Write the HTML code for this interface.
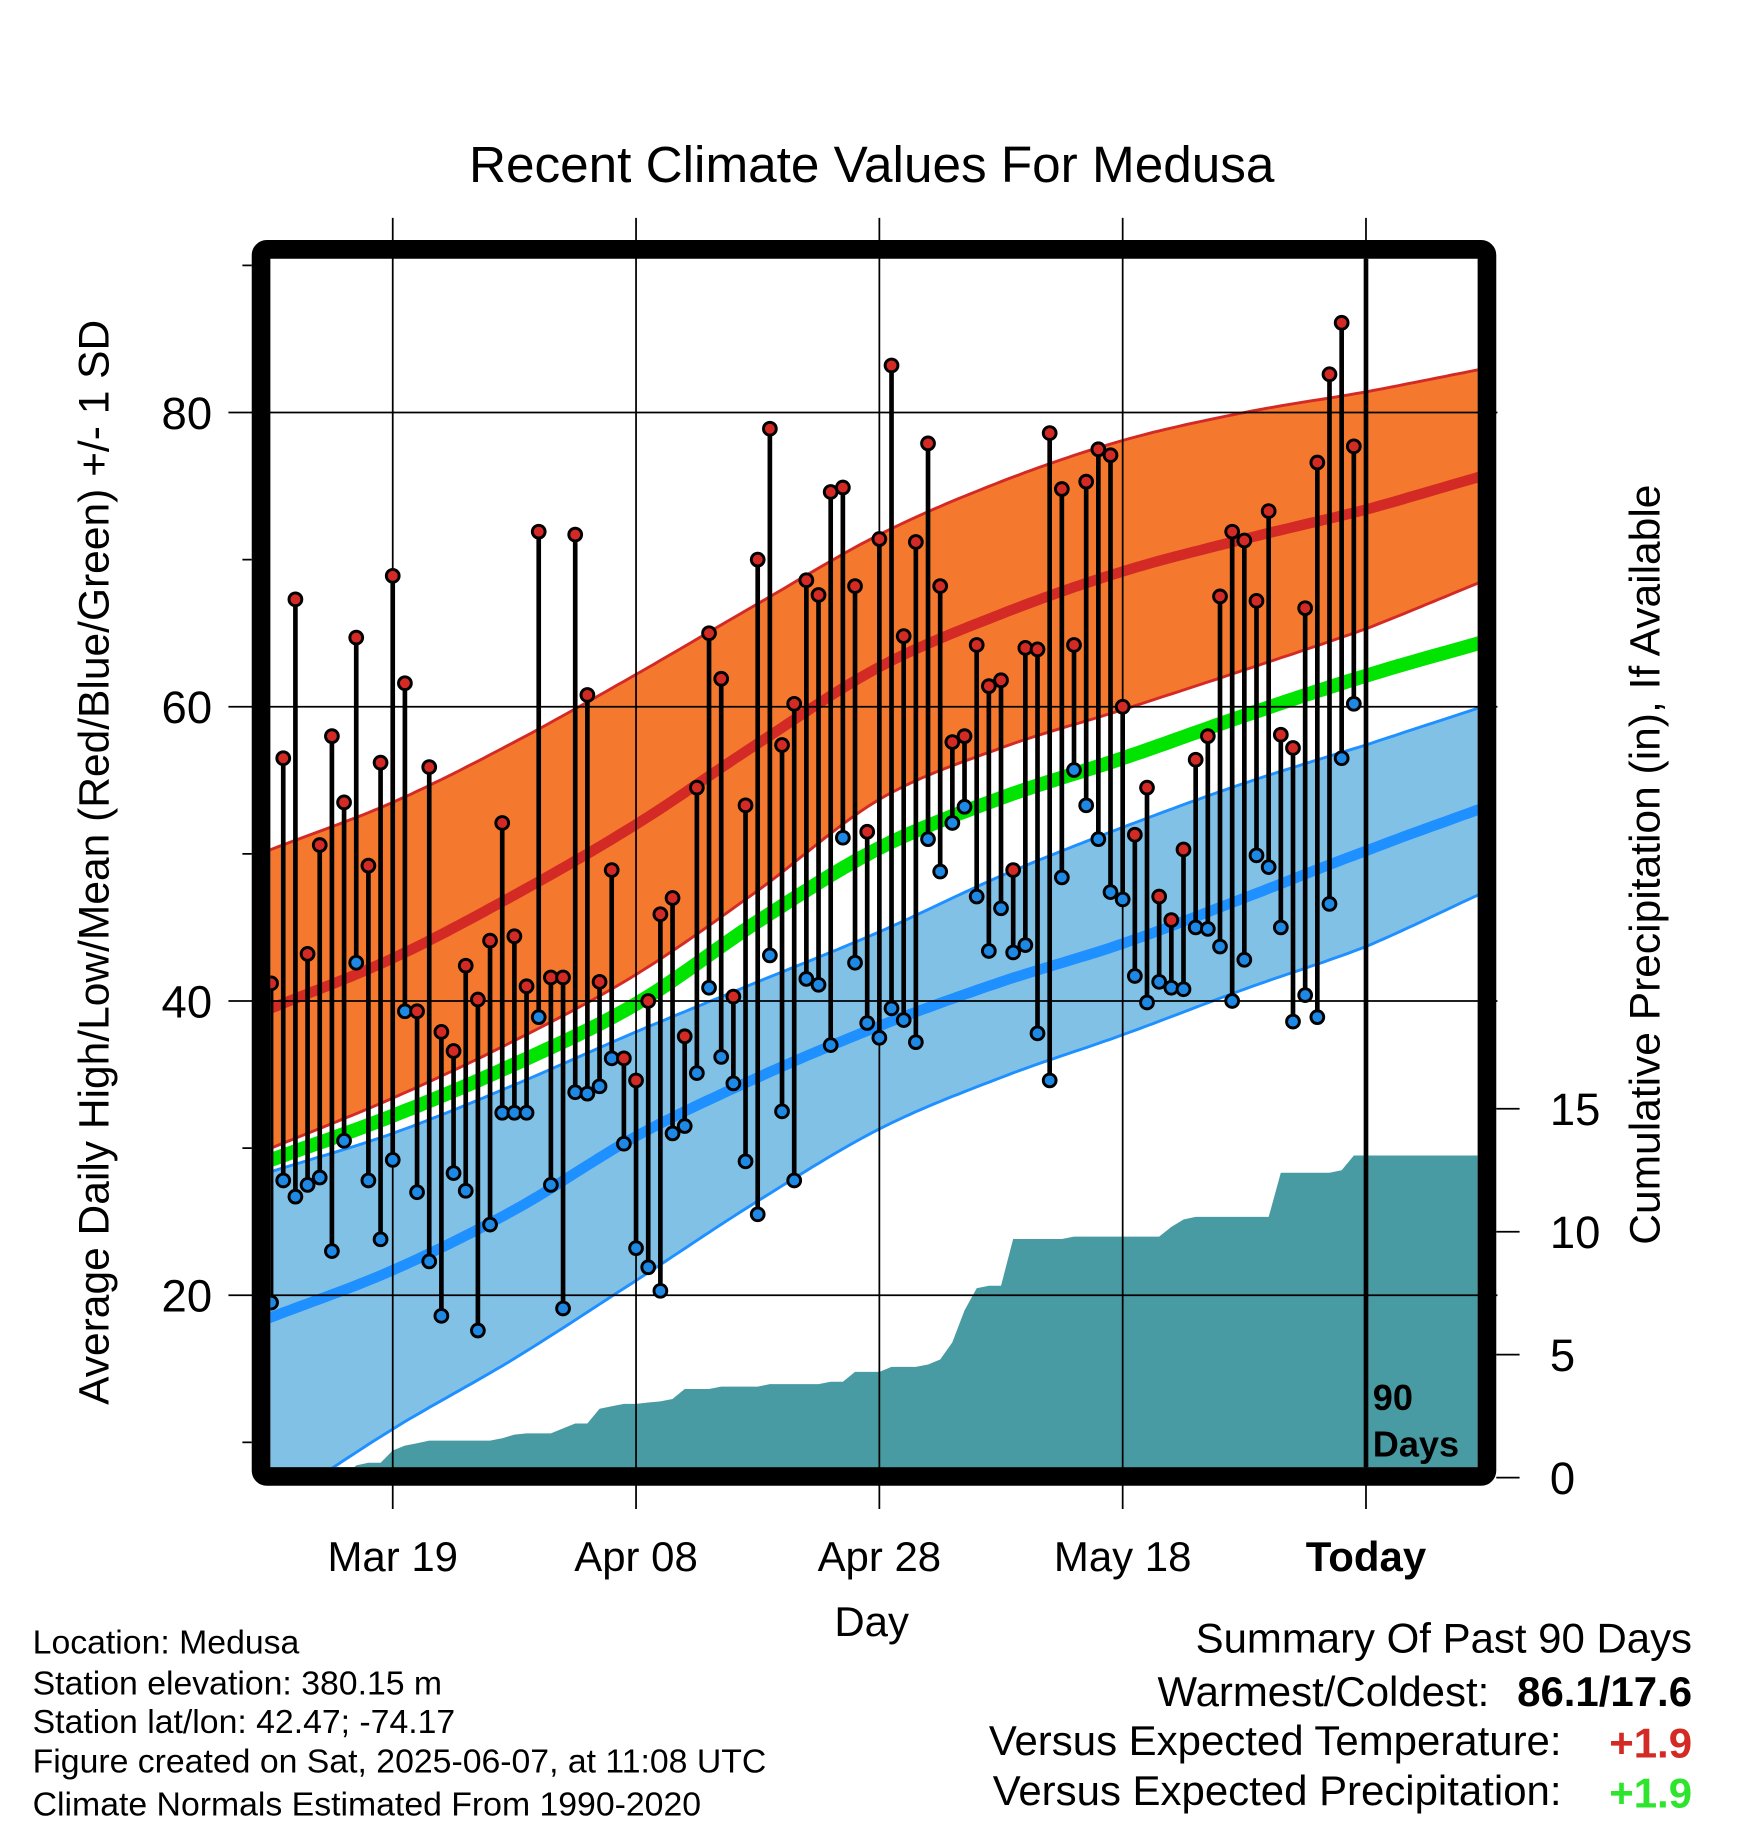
<!DOCTYPE html>
<html><head><meta charset="utf-8"><style>
html,body{margin:0;padding:0;background:#fff}
svg{display:block}
text{font-family:"Liberation Sans",sans-serif}
</style></head><body>
<svg id="chart" width="1748" height="1828" viewBox="0 0 1500 1568.7" xmlns="http://www.w3.org/2000/svg">
<defs><clipPath id="plotclip"><rect x="232" y="222" width="1036" height="1037"/></clipPath></defs>
<text x="748" y="156" font-size="44" text-anchor="middle">Recent Climate Values For Medusa</text>
<g id="bands" clip-path="url(#plotclip)"></g>
<g id="grid"></g>
<g id="marks" clip-path="url(#plotclip)"></g>
<g id="axes"></g>
<rect x="224" y="214" width="1052" height="1053" rx="5" fill="none" stroke="#000" stroke-width="16"/>
<text transform="translate(93,740) rotate(-90)" font-size="36.5" text-anchor="middle">Average Daily High/Low/Mean (Red/Blue/Green) +/- 1 SD</text>
<text transform="translate(1424,742) rotate(-90)" font-size="36.5" text-anchor="middle">Cumulative Precipitation (in), If Available</text>
<text x="748" y="1404" font-size="36" text-anchor="middle">Day</text>
<text x="1178" y="1210" font-size="31" font-weight="bold">90</text>
<text x="1178" y="1250" font-size="31" font-weight="bold">Days</text>
<g font-size="29">
<text x="28" y="1419">Location: Medusa</text>
<text x="28" y="1454">Station elevation: 380.15 m</text>
<text x="28" y="1487">Station lat/lon: 42.47; -74.17</text>
<text x="28" y="1521">Figure created on Sat, 2025-06-07, at 11:08 UTC</text>
<text x="28" y="1558">Climate Normals Estimated From 1990-2020</text>
</g>
<g font-size="36">
<text x="1452" y="1418" text-anchor="end">Summary Of Past 90 Days</text>
<text x="1278" y="1464" text-anchor="end">Warmest/Coldest:</text>
<text x="1452" y="1464" text-anchor="end" font-weight="bold">86.1/17.6</text>
<text x="1340" y="1506" text-anchor="end">Versus Expected Temperature:</text>
<text x="1452" y="1508" text-anchor="end" font-weight="bold" fill="#d42a25">+1.9</text>
<text x="1340" y="1549" text-anchor="end">Versus Expected Precipitation:</text>
<text x="1452" y="1551" text-anchor="end" font-weight="bold" fill="#2ee52e">+1.9</text>
</g>
</svg>
<script>
const highs=[41.2,56.5,67.3,43.2,50.6,58,53.5,64.7,49.2,56.2,68.9,61.6,39.3,55.9,37.9,36.6,42.4,40.1,44.1,52.1,44.4,41,71.9,41.6,41.6,71.7,60.8,41.3,48.9,36.1,34.6,40,45.9,47,37.6,54.5,65,61.9,40.3,53.3,70,78.9,57.4,60.2,68.6,67.6,74.6,74.9,68.2,51.5,71.4,83.2,64.8,71.2,77.9,68.2,57.6,58,64.2,61.4,61.8,48.9,64,63.9,78.6,74.8,64.2,75.3,77.5,77.1,60,51.3,54.5,47.1,45.5,50.3,56.4,58,67.5,71.9,71.3,67.2,73.3,58.1,57.2,66.7,76.6,82.6,86.1,77.7];
const lows=[19.5,27.8,26.7,27.5,28,23,30.5,42.6,27.8,23.8,29.2,39.3,27,22.3,18.6,28.3,27.1,17.6,24.8,32.4,32.4,32.4,38.9,27.5,19.1,33.8,33.7,34.2,36.1,30.3,23.2,21.9,20.3,31,31.5,35.1,40.9,36.2,34.4,29.1,25.5,43.1,32.5,27.8,41.5,41.1,37,51.1,42.6,38.5,37.5,39.5,38.7,37.2,51,48.8,52.1,53.2,47.1,43.4,46.3,43.3,43.8,37.8,34.6,48.4,55.7,53.3,51,47.4,46.9,41.7,39.9,41.3,40.9,40.8,45,44.9,43.7,40,42.8,49.9,49.1,45,38.6,40.4,38.9,46.6,56.5,60.2];
const precip=[0,0,0,0,0,0,0,0.5,0.6,0.6,1.1,1.3,1.4,1.5,1.5,1.5,1.5,1.5,1.5,1.6,1.75,1.8,1.8,1.8,2.0,2.2,2.2,2.8,2.9,3.0,3.0,3.05,3.1,3.2,3.6,3.6,3.6,3.7,3.7,3.7,3.7,3.8,3.8,3.8,3.8,3.8,3.9,3.9,4.3,4.3,4.3,4.5,4.5,4.5,4.6,4.8,5.5,6.8,7.7,7.8,7.8,9.7,9.7,9.7,9.7,9.7,9.8,9.8,9.8,9.8,9.8,9.8,9.8,9.8,10.2,10.5,10.6,10.6,10.6,10.6,10.6,10.6,10.6,12.4,12.4,12.4,12.4,12.4,12.5,13.1];
const normDays=[0,10,20,30,40,50,60,70,80,90,99.2];
const highUpper=[50.3,53.5,57.6,62.2,67,71.7,75.3,78.1,80,81.4,82.9];
const highMean=[39.5,42.9,47.2,52,57.5,62.7,66.3,69.2,71.4,73.4,75.6];
const highLower=[30,33.4,37.3,41.8,47.5,53.7,57.2,59.8,62.5,65.3,68.4];
const meanTemp=[29.2,32.2,35.7,39.8,45.4,50.4,53.8,56.5,59.4,62.1,64.3];
const lowUpper=[28.4,31,34.3,37.9,41.3,44.7,48.5,51.8,54.8,57.4,59.9];
const lowMean=[18.5,21.7,25.8,30.8,34.8,38.3,41.3,43.9,47,50.2,53];
const lowLower=[5.5,10.9,15.7,21,26.4,31.3,34.8,37.7,40.8,43.7,47.2];
const yTicks=[20,40,60,80];
const yMinor=[10,30,50,70,90];
const pTicks=[0,5,10,15];
const xTickDays=[10,30,50,70,90];
const xTickLabels=["Mar 19","Apr 08","Apr 28","May 18","Today"];

const NS="http://www.w3.org/2000/svg";
const xS=d=>337+(d-10)*10.44;
const yS=t=>354+(80-t)*12.625;
const pS=p=>1268-p*21.1;
function mk(tag,attrs,parent){const e=document.createElementNS(NS,tag);for(const k in attrs)e.setAttribute(k,attrs[k]);parent.appendChild(e);return e;}
function interp(arr,d){const n=normDays.length;
 if(d<=normDays[0]){return arr[0]+(arr[1]-arr[0])*(d-normDays[0])/(normDays[1]-normDays[0]);}
 if(d>=normDays[n-1]){return arr[n-1]+(arr[n-1]-arr[n-2])*(d-normDays[n-1])/(normDays[n-1]-normDays[n-2]);}
 for(let i=0;i<n-1;i++){if(d<=normDays[i+1]){const a=normDays[i],b=normDays[i+1];const u=(d-a)/(b-a);
 const p1=arr[i],p2=arr[i+1];
 const p0=i>0?arr[i-1]:2*p1-p2, p3=i+2<n?arr[i+2]:2*p2-p1;
 return 0.5*((2*p1)+(-p0+p2)*u+(2*p0-5*p1+4*p2-p3)*u*u+(-p0+3*p1-3*p2+p3)*u*u*u);}}}
function curve(arr){const pts=[];for(let d=-1;d<=100;d+=0.5)pts.push([xS(d),yS(interp(arr,d))]);return pts;}
const ptsStr=p=>p.map(q=>q[0].toFixed(1)+","+q[1].toFixed(1)).join(" ");
const bands=document.getElementById('bands');
function band(up,lo,fill,name){const a=curve(up),b=curve(lo).reverse();const e=mk('polygon',{points:ptsStr(a.concat(b)),fill:fill},bands);

return e;}
function line(arr,stroke,w,name){const e=mk('polyline',{points:ptsStr(curve(arr)),fill:'none',stroke:stroke,'stroke-width':w},bands);

}
band(highUpper,highLower,'#f4792e','high-sd-band');
line(highUpper,'#d42a25',2.5,'high-upper-edge');
line(highLower,'#d42a25',2.5,'high-lower-edge');
line(highMean,'#d42a25',9,'high-mean-line');
band(lowUpper,lowLower,'#82c1e6','low-sd-band');
line(lowUpper,'#1e90ff',2.5,'low-upper-edge');
line(lowLower,'#1e90ff',2.5,'low-lower-edge');
line(lowMean,'#1e90ff',9,'low-mean-line');
line(meanTemp,'#00e400',12,'mean-temp-line');
// precipitation area (linear between days)
let pp=[[xS(0),pS(0)]];
precip.forEach((v,i)=>{pp.push([xS(i),pS(v)]);});
pp.push([xS(90),pS(precip[precip.length-1])]);
pp.push([xS(100),pS(precip[precip.length-1])]);pp.push([xS(100),pS(0)]);
const pa=mk('polygon',{points:ptsStr(pp),fill:'#499ba3'},bands);


// grid
const grid=document.getElementById('grid');
yTicks.forEach(t=>{const e=mk('line',{x1:196,x2:1285,y1:yS(t),y2:yS(t),stroke:'#000','stroke-width':1.5},grid);

});
xTickDays.forEach((d,i)=>{const e=mk('line',{x1:xS(d),x2:xS(d),y1:187,y2:1295,stroke:'#000','stroke-width':1.5},grid);

});
const tl=mk('line',{x1:xS(90),x2:xS(90),y1:222,y2:1259,stroke:'#000','stroke-width':4},grid);


// stems and points
const marks=document.getElementById('marks');
highs.forEach((h,i)=>{const x=xS(i);
 const s=mk('line',{x1:x,x2:x,y1:yS(h),y2:yS(lows[i]),stroke:'#000','stroke-width':4},marks);
 
 
 const c1=mk('circle',{cx:x,cy:yS(h),r:5.5,fill:'#d42a25',stroke:'#000','stroke-width':2.5},marks);
 
 
 const c2=mk('circle',{cx:x,cy:yS(lows[i]),r:5.5,fill:'#1e88e5',stroke:'#000','stroke-width':2.5},marks);
 
 });
// axes labels
const axes=document.getElementById('axes');
yTicks.forEach(t=>{const e=mk('text',{x:182,y:yS(t)+14,'font-size':39,'text-anchor':'end'},axes);e.textContent=t;

});
yMinor.forEach(t=>{const e=mk('line',{x1:208,x2:216,y1:yS(t),y2:yS(t),stroke:'#000','stroke-width':1.5},axes);

});
pTicks.forEach(p=>{const e=mk('line',{x1:1284,x2:1304,y1:pS(p),y2:pS(p),stroke:'#000','stroke-width':1.5},axes);


const t=mk('text',{x:1330,y:pS(p)+14,'font-size':39},axes);t.textContent=p;

});
xTickDays.forEach((d,i)=>{const e=mk('text',{x:xS(d),y:1348,'font-size':36,'text-anchor':'middle'},axes);e.textContent=xTickLabels[i];
if(i===4)e.setAttribute('font-weight','bold');

});
</script>
</body></html>
